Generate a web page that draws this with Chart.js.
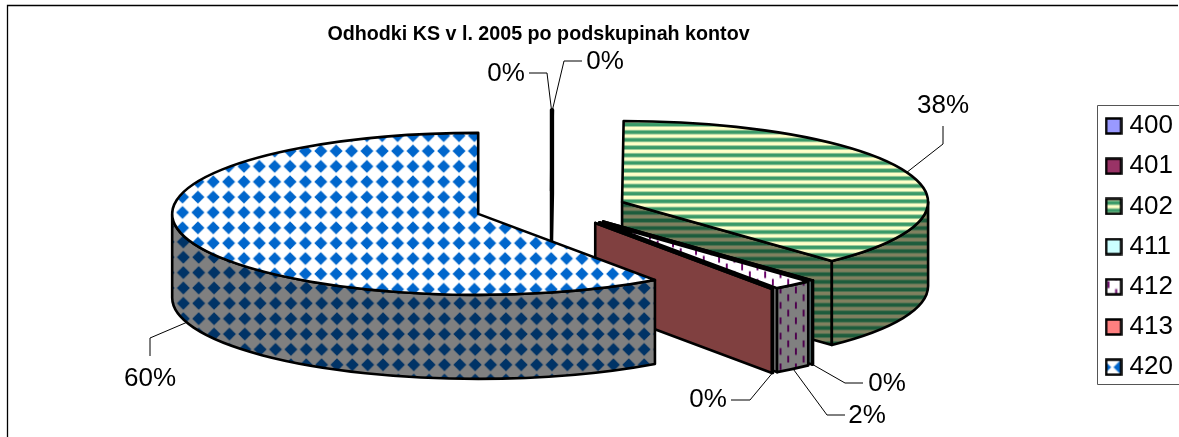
<!DOCTYPE html>
<html lang="sl">
<head>
  <meta charset="UTF-8">
  <title>Odhodki KS</title>
  <script src="https://cdn.jsdelivr.net/npm/chart.js@4"></script>
  <style>
    * { box-sizing: border-box; margin: 0; padding: 0; }
    body { background: #fff; overflow: hidden; }
    canvas { display: block; }
  </style>
</head>
<body>
  <canvas id="pie" width="1179" height="437"></canvas>
  <script>
    const chartTitle = 'Odhodki KS v l. 2005 po podskupinah kontov';
    const konti = ['400', '401', '402', '411', '412', '413', '420'];
    const deleži = [0.04, 0.04, 37.9, 0.06, 2.1, 0.06, 59.8];
    const oznake = ['0%', '0%', '38%', '0%', '2%', '0%', '60%'];

    // layout of the fake 3D pie
    const cx = 551, cy = 208.5, radius = 306, squash = 0.2647, explode = 76.4, explodeY = 17.7, depth = 84;
    const labelFont = '26px "Liberation Sans", Arial, sans-serif';
    // text centre, elbow and end of each leader line
    const labelSpots = [
      { x: 506, y: 74, elbow: [547, 73], end: [529, 73] },
      { x: 605, y: 62, elbow: [564, 61], end: [582, 61] },
      { x: 943, y: 106, elbow: [943, 144], end: [943, 126] },
      { x: 887, y: 384, elbow: [845, 383], end: [863, 383] },
      { x: 867, y: 416, elbow: [827, 415], end: [845, 415] },
      { x: 708, y: 400, elbow: [750, 400], end: [731, 400] },
      { x: 150, y: 379, elbow: [150, 338], end: [150, 356] }
    ];

    const PERIOD = 15.36; // the 8px office hatch, scaled up
    // tile is drawn in a 32 unit box, rastered at about final size so it does not alias
    function tile(draw, tx, ty, size, px) {
      const c = document.createElement('canvas');
      c.width = c.height = px;
      const g = c.getContext('2d');
      g.scale(px / 32, px / 32);
      draw(g);
      const p = document.getElementById('pie').getContext('2d').createPattern(c, 'repeat');
      const s = size / px;
      p.setTransform(new DOMMatrix([s, 0, 0, s, tx, ty]));
      return p;
    }
    function diamonds(bg, fg, tx, ty) {
      return tile(g => {
        g.fillStyle = bg; g.fillRect(0, 0, 32, 32);
        g.fillStyle = fg; g.beginPath();
        g.moveTo(16, 2.5); g.lineTo(29.5, 16); g.lineTo(16, 29.5); g.lineTo(2.5, 16); g.closePath(); g.fill();
      }, tx, ty, PERIOD, 16);
    }
    function stripes(a, mid, b, tx, ty) {
      return tile(g => {
        g.fillStyle = a; g.fillRect(0, 0, 32, 32);
        g.fillStyle = mid; g.fillRect(0, 0, 32, 20);
        g.fillStyle = b; g.fillRect(0, 4, 32, 12);
      }, tx, ty, PERIOD / 2, 8);
    }
    function dashes(bg, fg, tx, ty) {
      return tile(g => {
        g.fillStyle = bg; g.fillRect(0, 0, 32, 32);
        g.fillStyle = fg;
        g.fillRect(6, 1, 4, 14);
        g.fillRect(22, 17, 4, 14);
      }, tx, ty, PERIOD, 16);
    }

    const topFills = [
      '#9999FF', '#993366',
      stripes('#FFFFC8', '#9CCB98', '#3A9A68', 0, 6.9),
      '#CCFFFF',
      dashes('#FFFFFF', '#660066', 1, 2),
      '#FF8080',
      diamonds('#FFFFFF', '#0066CC', 5.9, 5.1)
    ];
    const sideFills = [
      '#4D4D80', '#4D1A33',
      stripes('#80805F', '#4E7050', '#1D5C3C', 0, 3),
      '#668080',
      dashes('#808080', '#4D004D', 1, 2),
      '#804040',
      diamonds('#808080', '#003366', 6.7, 3.8)
    ];

    function swatch(fill) {
      const c = document.createElement('canvas');
      c.width = c.height = 18;
      const g = c.getContext('2d');
      g.fillStyle = '#fff'; g.fillRect(0, 0, 18, 18);
      g.fillStyle = fill; g.fillRect(1, 1, 16, 16);
      g.strokeStyle = '#000'; g.lineWidth = 2.5; g.strokeRect(1.5, 1.5, 15, 15);
      return c;
    }
    const swatchFills = [
      '#9999FF', '#993366',
      stripes('#FFFFC8', '#9CCB98', '#3A9A68', 0, 3),
      '#CCFFFF',
      dashes('#FFFFFF', '#660066', 0, 3),
      '#FF8080',
      diamonds('#FFFFFF', '#0066CC', -7.7, 1.3)
    ];

    const slicePos = (arc, angle) => {
      const mid = (arc.startAngle + arc.endAngle) / 2;
      const x0 = cx + Math.cos(mid) * explode;
      const y0 = cy + Math.sin(mid) * explodeY;
      if (angle === undefined) return { x: x0, y: y0 };
      return { x: x0 + Math.cos(angle) * arc.outerRadius, y: y0 + Math.sin(angle) * arc.outerRadius * squash };
    };

    function paint(ctx, fill) {
      ctx.fillStyle = fill;
      ctx.fill();
      ctx.stroke();
    }
    function cutWall(ctx, arc, angle, fill) {
      const c = slicePos(arc), e = slicePos(arc, angle);
      ctx.beginPath();
      ctx.moveTo(c.x, c.y);
      ctx.lineTo(e.x, e.y);
      ctx.lineTo(e.x, e.y + depth);
      ctx.lineTo(c.x, c.y + depth);
      ctx.closePath();
      paint(ctx, fill);
    }

    const pie3d = {
      id: 'pie3d',
      beforeDatasetsDraw(chart) {
        const ctx = chart.ctx;
        const arcs = chart.getDatasetMeta(0).data;
        ctx.save();
        ctx.strokeStyle = '#000';
        ctx.lineWidth = 2.6;
        ctx.lineJoin = 'round';
        arcs.forEach((arc, i) => {
          const a = arc.startAngle, b = arc.endAngle, r = arc.outerRadius;
          const c = slicePos(arc);
          if (Math.cos(a) < -1e-6) cutWall(ctx, arc, a, sideFills[i]);
          if (Math.cos(b) > 1e-6) cutWall(ctx, arc, b, sideFills[i]);
          const lo = Math.max(a, 0), hi = Math.min(b, Math.PI);
          if (hi > lo) {
            ctx.beginPath();
            ctx.ellipse(c.x, c.y, r, r * squash, 0, lo, hi);
            ctx.ellipse(c.x, c.y + depth, r, r * squash, 0, hi, lo, true);
            ctx.closePath();
            paint(ctx, sideFills[i]);
          }
          ctx.beginPath();
          ctx.moveTo(c.x, c.y);
          ctx.ellipse(c.x, c.y, r, r * squash, 0, a, b);
          ctx.closePath();
          paint(ctx, topFills[i]);
        });
        ctx.restore();
        return false;
      },
      afterDraw(chart) {
        const ctx = chart.ctx;
        const arcs = chart.getDatasetMeta(0).data;
        ctx.save();
        // outer frame
        ctx.strokeStyle = '#000';
        ctx.lineWidth = 1.3;
        ctx.beginPath();
        ctx.moveTo(7.5, 437); ctx.lineTo(7.5, 5.5); ctx.lineTo(1178, 5.5);
        ctx.stroke();
        // legend frame
        ctx.strokeStyle = '#555';
        ctx.lineWidth = 1;
        ctx.beginPath();
        ctx.moveTo(1179, 105.5); ctx.lineTo(1097.5, 105.5); ctx.lineTo(1097.5, 384.5); ctx.lineTo(1179, 384.5);
        ctx.stroke();
        // title
        ctx.fillStyle = '#000';
        ctx.font = 'bold 19.7px "Liberation Sans", Arial, sans-serif';
        ctx.textAlign = 'center';
        ctx.textBaseline = 'middle';
        ctx.fillText(chartTitle, 538.5, 35);
        // leader lines and percentages
        ctx.font = labelFont;
        ctx.strokeStyle = '#000';
        ctx.lineWidth = 1;
        arcs.forEach((arc, i) => {
          const mid = (arc.startAngle + arc.endAngle) / 2;
          const e = slicePos(arc, mid);
          const drop = Math.sin(mid) > 0.05 ? depth : 0;
          const s = labelSpots[i];
          ctx.beginPath();
          ctx.moveTo(e.x, e.y + drop);
          ctx.lineTo(s.elbow[0], s.elbow[1]);
          ctx.lineTo(s.end[0], s.end[1]);
          ctx.stroke();
          ctx.fillText(oznake[i], s.x, s.y);
        });
        ctx.restore();
      }
    };

    new Chart(document.getElementById('pie'), {
      type: 'pie',
      data: {
        labels: konti,
        datasets: [{ data: deleži, backgroundColor: ['#9999FF', '#993366', '#3A9A68', '#CCFFFF', '#FFFFFF', '#FF8080', '#0066CC'] }]
      },
      options: {
        responsive: false,
        animation: false,
        events: [],
        radius: radius,
        layout: { padding: { top: 98.8, right: -4 } },
        plugins: {
          tooltip: { enabled: false },
          title: { display: false },
          legend: {
            position: 'right',
            align: 'start',
            labels: {
              usePointStyle: true,
              pointStyleWidth: 6,
              padding: 14.2,
              color: '#000',
              font: { size: 26, family: '"Liberation Sans", Arial, sans-serif' },
              generateLabels: () => konti.map((k, i) => ({
                text: k,
                pointStyle: swatch(swatchFills[i]),
                fillStyle: 'transparent',
                strokeStyle: 'transparent',
                lineWidth: 0,
                hidden: false,
                index: i
              }))
            }
          }
        }
      },
      plugins: [pie3d]
    });
  </script>
</body>
</html>
